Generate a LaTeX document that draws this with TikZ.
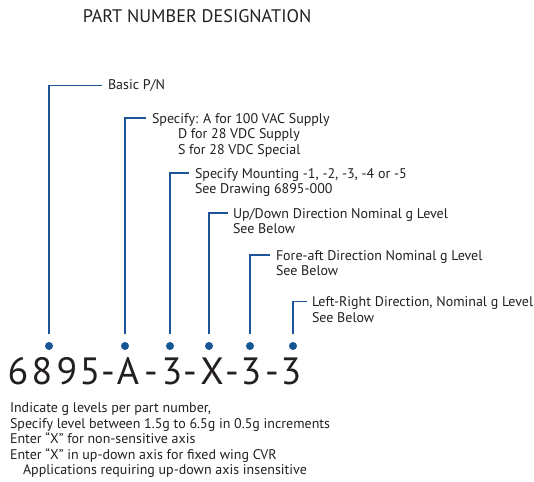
\documentclass[tikz,border=0pt]{standalone}
\usepackage{fontspec}
\setmainfont{PT Sans}
\definecolor{PnBlue}{RGB}{28,84,150}
\definecolor{PnDot}{RGB}{22,86,150}
\definecolor{PnText}{RGB}{35,31,32}
\usepackage{tikz}
\usetikzlibrary{
    positioning,
    calc,
}

\begin{document}
\begin{tikzpicture}[x=1pt, y=-1pt,
        every node/.style={inner sep=0pt, outer sep=0pt, text=PnText},
        lbl/.style={font=\fontsize{14}{15.5}\selectfont, anchor=base west, align=left},
        pnchar/.style={font=\fontsize{38}{40}\selectfont, anchor=base},
        pndot/.style={circle, fill=PnDot, minimum size=8pt},
        leader/.style={PnBlue, line width=1.1pt}]
        \useasboundingbox (0,0) rectangle (534,481);
        \node[font=\fontsize{18.2}{20}\selectfont] (title) at (197,16.5) {PART NUMBER DESIGNATION};
        \node[lbl] (l1) at (108,90) {Basic P/N};
        \node[lbl] (l2) at (152,154) {Specify: A for 100 VAC Supply\\\hspace*{26pt}D for 28 VDC Supply\\\hspace*{26pt}S for 28 VDC Special};
        \node[lbl] (l3) at (195,193.5) {Specify Mounting -1, -2, -3, -4 or -5\\See Drawing 6895-000};
        \node[lbl] (l4) at (233,233.5) {Up/Down Direction Nominal g Level\\See Below};
        \node[lbl] (l5) at (276,275.5) {Fore-aft Direction Nominal g Level\\See Below};
        \node[lbl] (l6) at (312,322) {Left-Right Direction, Nominal g Level\\See Below};
        \node[pndot] (d1) at (49,346) {};
        \node[pndot] (d2) at (125,346) {};
        \node[pndot] (d3) at (170,346) {};
        \node[pndot] (d4) at (209,346) {};
        \node[pndot] (d5) at (250,346) {};
        \node[pndot] (d6) at (293,346) {};
        \draw[leader] ([yshift=12pt]d1.center) |- ([shift={(-6pt,4.5pt)}]l1.base west);
        \draw[leader] ([yshift=12pt]d2.center) |- ([shift={(-6pt,36pt)}]l2.base west);
        \draw[leader] ([yshift=12pt]d3.center) |- ([shift={(-6pt,20.5pt)}]l3.base west);
        \draw[leader] ([yshift=12pt]d4.center) |- ([shift={(-5pt,20.5pt)}]l4.base west);
        \draw[leader] ([yshift=12pt]d5.center) |- ([shift={(-6pt,20.5pt)}]l5.base west);
        \draw[leader] ([yshift=12pt]d6.center) |- ([shift={(-5pt,20.5pt)}]l6.base west);
        \node[pnchar] (c1) at (18,384) {6};
        \node[pnchar] (c2) at (42,384) {8};
        \node[pnchar] (c3) at (67,384) {9};
        \node[pnchar] (c4) at (90,384) {5};
        \node[pnchar] (c5) at (108,384) {-};
        \node[pnchar] (c6) at (128,384) {A};
        \node[pnchar] (c7) at (151,384) {-};
        \node[pnchar] (c8) at (172,384) {3};
        \node[pnchar] (c9) at (190,384) {-};
        \node[pnchar] (c10) at (212,384) {X};
        \node[pnchar] (c11) at (232,384) {-};
        \node[pnchar] (c12) at (251,384) {3};
        \node[pnchar] (c13) at (272,384) {-};
        \node[pnchar] (c14) at (291,384) {3};
        \node[lbl] (note) at (10,474.5) {Indicate g levels per part number,\\Specify level between 1.5g to 6.5g in 0.5g increments\\Enter “X” for non-sensitive axis\\Enter “X” in up-down axis for fixed wing CVR\\\hspace*{13pt}Applications requiring up-down axis insensitive};
    \end{tikzpicture}
\end{document}
